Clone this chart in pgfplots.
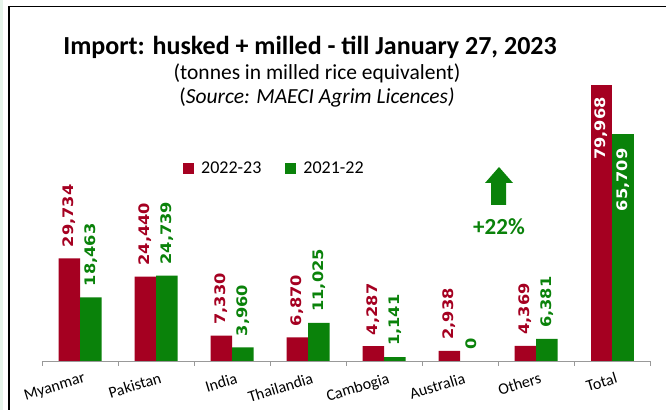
\documentclass[border=0pt]{standalone}
\usepackage{pgfplots}
\pgfplotsset{compat=1.18}
\usepackage{fontspec}
\setmainfont{Carlito}
\newfontfamily\valfont[FakeStretch=1.12]{DejaVu Sans}
\definecolor{redbar}{HTML}{A50021}
\definecolor{greenbar}{HTML}{0A820A}
\definecolor{strip}{HTML}{E6F4EA}

\begin{document}
\begin{tikzpicture}
\path[use as bounding box] (0,0) rectangle (666bp,410bp);
\fill[white] (0,0) rectangle (666bp,410bp);
\fill[strip] (0,0) rectangle (3bp,410bp);
\draw[line width=1.5bp] (9bp,0) -- (9bp,403.5bp) -- (666bp,403.5bp);

\node at (310bp,363bp) {\fontsize{26bp}{26bp}\selectfont\bfseries Import: husked + milled - till January 27, 2023};
\node at (317bp,337bp) {\fontsize{21.5bp}{21.5bp}\selectfont (tonnes in milled rice equivalent)};
\node at (317bp,313bp) {\fontsize{21.5bp}{21.5bp}\selectfont (\textit{Source: MAECI Agrim Licences)}};

\begin{axis}[
    at={(42bp,49bp)}, anchor=south west,
    scale only axis, width=608bp, height=345bp,
    xmin=-0.5, xmax=7.5, ymin=0, ymax=100000,
    axis x line*=bottom, axis y line=none,
    axis line style={gray!80, -},
    ybar, bar width=21.5bp,
    xtick={0,...,7},
    xticklabels={Myanmar,Pakistan,India,Thailandia,Cambogia,Australia,Others,Total},
    xticklabel style={font=\fontsize{16bp}{16bp}\selectfont, rotate=17, anchor=north east, xshift=3bp, yshift=-8bp},
    major tick length=0pt,
    minor xtick={-0.5,0.5,...,7.5},
    minor tick length=5bp, tick align=outside,
    every tick/.style={gray!80},
    ytick=\empty,
    legend style={at={(0.227,0.557)}, anchor=west, draw=none, fill=none,
        font=\fontsize{18bp}{18bp}\selectfont, legend columns=2,
        /tikz/every odd column/.append style={column sep=5bp},
        /tikz/every even column/.append style={column sep=22bp}},
    /pgf/number format/assume math mode=true,
    nodes near coords={\pgfmathprintnumber[fixed,precision=0,1000 sep={,}]{\pgfplotspointmeta}},
    every node near coord/.append style={font=\valfont\bfseries\fontsize{14.5bp}{14.5bp}\selectfont, rotate=90, anchor=west, inner xsep=11bp, inner ysep=0pt},
]
\addplot[fill=redbar, draw=none, bar shift=-10.75bp, every node near coord/.append style={text=redbar},
    legend image code/.code={\fill[redbar] (0bp,-5.5bp) rectangle (11bp,5.5bp);}]
coordinates {(0,29734) (1,24440) (2,7330) (3,6870) (4,4287) (5,2938) (6,4369)};
\addlegendentry{2022-23}
\addplot[fill=greenbar, draw=none, bar shift=10.75bp, every node near coord/.append style={text=greenbar},
    legend image code/.code={\fill[greenbar] (0bp,-5.5bp) rectangle (11bp,5.5bp);}]
coordinates {(0,18463) (1,24739) (2,3960) (3,11025) (4,1141) (5,0) (6,6381)};
\addlegendentry{2021-22}
\addplot[fill=redbar, draw=none, bar shift=-10.75bp, forget plot,
    every node near coord/.append style={text=white, anchor=east, inner xsep=12bp}]
coordinates {(7,79968)};
\addplot[fill=greenbar, draw=none, bar shift=10.75bp, forget plot,
    every node near coord/.append style={text=white, anchor=east, inner xsep=14bp}]
coordinates {(7,65709)};
\end{axis}

\fill[greenbar] (491bp,205bp) -- (491bp,227bp) -- (485bp,227bp) -- (499bp,243bp) -- (513bp,227bp) -- (506bp,227bp) -- (506bp,205bp) -- cycle;
\node[text=greenbar] at (499bp,183bp) {\fontsize{23bp}{23bp}\selectfont\bfseries +22\%};
\end{tikzpicture}
\end{document}
